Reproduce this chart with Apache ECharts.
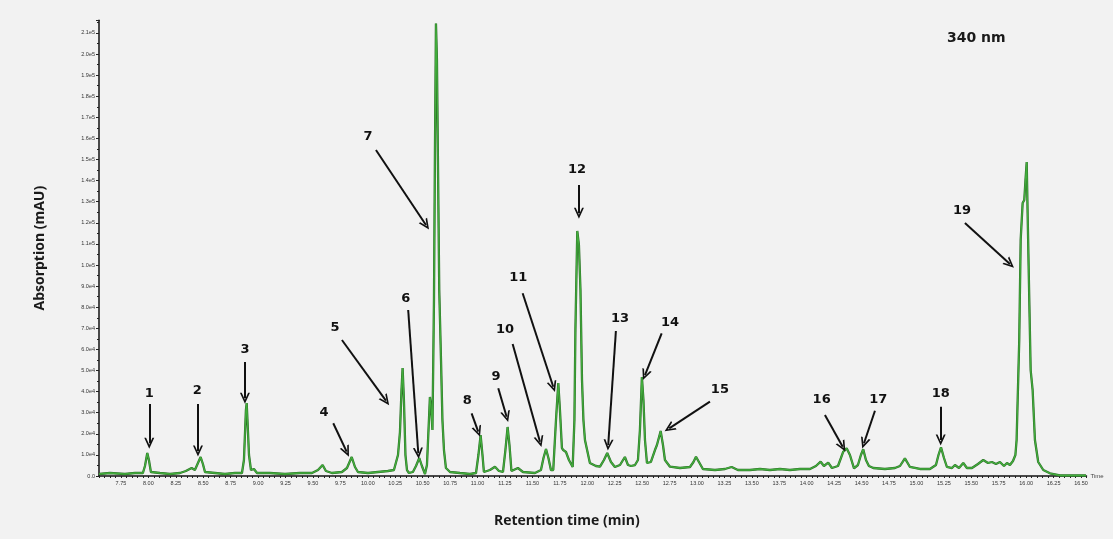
<!DOCTYPE html>
<html>
<head>
<meta charset="utf-8">
<script src="https://cdn.jsdelivr.net/npm/echarts@6/dist/echarts.min.js"></script>
<style>
html,body{margin:0;padding:0;background:#f2f2f2;}
#chart{width:1113px;height:539px;}
</style>
</head>
<body>
<div id="chart"></div>
<script>
// Retention time (min)
const times = [
7.55,7.650,7.786,7.878,7.950,7.969,7.990,8.005,8.023,8.105,8.197,8.288,8.342,8.394,8.424,8.452,8.476,8.497,8.516,8.607,
8.698,8.789,8.853,8.871,8.889,8.896,8.903,8.917,8.935,8.962,8.990,9.108,9.245,9.381,9.491,9.546,9.588,9.618,9.673,9.764,
9.810,9.853,9.883,9.910,10.001,10.092,10.183,10.238,10.275,10.293,10.307,10.317,10.329,10.343,10.357,10.375,10.411,10.439,10.469,10.493,
10.521,10.539,10.557,10.566,10.575,10.589,10.603,10.612,10.621,10.630,10.639,10.651,10.667,10.680,10.694,10.712,10.749,10.840,10.931,10.986,
11.008,11.028,11.045,11.058,11.113,11.159,11.195,11.232,11.254,11.274,11.291,11.309,11.368,11.414,11.523,11.578,11.601,11.624,11.646,11.669,
11.690,11.715,11.736,11.751,11.769,11.781,11.806,11.833,11.867,11.883,11.892,11.909,11.924,11.938,11.952,11.965,11.979,12.024,12.079,12.116,
12.152,12.182,12.216,12.252,12.298,12.343,12.371,12.398,12.435,12.462,12.480,12.498,12.512,12.526,12.544,12.580,12.617,12.635,12.669,12.690,
12.708,12.754,12.845,12.936,12.968,12.991,13.018,13.054,13.164,13.255,13.316,13.373,13.483,13.574,13.665,13.756,13.847,13.938,14.030,14.084,
14.127,14.157,14.196,14.230,14.285,14.312,14.333,14.364,14.394,14.431,14.467,14.494,14.515,14.540,14.567,14.607,14.713,14.804,14.850,14.895,
14.941,15.032,15.123,15.178,15.201,15.224,15.251,15.278,15.324,15.351,15.388,15.427,15.460,15.506,15.561,15.609,15.652,15.688,15.725,15.761,
15.798,15.825,15.852,15.880,15.902,15.913,15.937,15.950,15.968,15.983,15.994,16.005,16.014,16.028,16.041,16.059,16.080,16.110,16.156,16.217,
16.308,16.445,16.545
];
// Absorption (mAU, raw detector units)
const absorbance = [
950,1420,950,1420,1420,4740,10900,7580,1900,1420,950,1420,2370,3790,2840,6160,9010,5690,1900,1420,
950,1420,1420,7580,31280,34600,26540,9950,2840,3320,1420,1420,950,1420,1420,2840,5210,2370,1420,1900,
3790,9010,4270,1900,1420,1900,2370,2840,9950,20860,40760,51190,36020,9950,2840,1420,1900,4740,8530,4740,
950,5210,26540,37450,33650,21800,83420,154520,214500,197180,149780,88160,54980,26540,12320,3790,1900,1420,950,1420,
9950,19430,9950,1900,2840,4410,2370,1900,12320,23230,14690,2370,3790,1900,1420,2840,8530,12800,8530,2840,
2840,26540,44080,31280,13270,12320,11380,7580,4270,26540,69200,116130,109490,88160,45500,26540,17060,6160,4740,4410,
7580,10900,6640,4270,5210,9010,5210,4740,5210,7580,21800,46930,36020,17060,6160,6640,12320,14690,21330,14690,
7580,4410,3790,4270,6640,9150,6640,3320,2840,3320,4270,2840,2840,3320,2840,3320,2840,3320,3320,4740,
6780,4740,6300,3790,4740,8530,11520,13130,9950,3650,5210,9950,12660,7580,4740,3790,3320,3790,4740,8390,
4270,3320,3320,5210,9950,13600,8530,4270,3790,5210,3790,6160,3790,3790,5690,7580,6160,6640,5690,6640,
4740,6160,5210,7110,9950,17060,64460,111860,129400,130820,140300,148840,122770,84850,50240,40760,17060,6640,2840,1280,
240,240,240
];
// Peak annotations
const peakIds = ['1','2','3','4','5','6','7','8','9','10','11','12','13','14','15','16','17','18','19'];
const labelT = [8.008,8.445,8.880,9.600,9.700,10.347,10.001,10.906,11.168,11.250,11.371,11.906,12.298,12.754,13.209,14.136,14.652,15.221,15.415];
const labelV = [39200,40430,59720,30190,70150,84230,160690,35690,47070,69200,94180,145040,74750,72660,40760,36020,36020,38870,125610];
const arrowStartT = [8.008,8.452,8.880,9.685,9.764,10.368,10.074,10.946,11.189,11.320,11.411,11.924,12.261,12.678,13.118,14.166,14.622,15.221,15.442];
const arrowStartV = [34130,34130,54040,24980,64460,78680,154520,29720,41570,62570,86600,137930,68730,67640,35220,28910,30950,32850,119920];
const arrowEndT = [8.008,8.452,8.880,9.807,10.165,10.460,10.530,11.006,11.265,11.569,11.690,11.924,12.191,12.526,12.747,14.328,14.522,15.221,15.852];
const arrowEndV = [15500,11850,36830,11520,35690,10760,118970,21000,28110,16260,42330,124520,14690,47870,22610,13890,15500,17060,100490];

const seriesData = times.map((t, i) => [t, absorbance[i]]);
const arrowLines = peakIds.map((id, i) => [
  {coord: [arrowStartT[i], arrowStartV[i]]},
  {coord: [arrowEndT[i], arrowEndV[i]]}
]);
const labelPoints = peakIds.map((id, i) => ({name: id, coord: [labelT[i], labelV[i]]}));

const chart = echarts.init(document.getElementById('chart'), null, {renderer: 'canvas'});
chart.setOption({
  backgroundColor: '#f2f2f2',
  animation: false,
  title: [
    {text: 'Retention time (min)', left: 489, top: 509,
     textStyle: {fontFamily: 'Open Sans', fontWeight: 'bold', fontSize: 14, color: '#1a1a1a'}},
    {text: '340 nm', left: 942, top: 26,
     textStyle: {fontFamily: 'DejaVu Sans', fontWeight: 'bold', fontSize: 14, color: '#1a1a1a'}}
  ],
  grid: {left: 99, right: 26.5, top: 20.3, bottom: 63},
  xAxis: {
    type: 'value', min: 7.55, max: 16.55, interval: 0.05,
    name: 'Time', nameLocation: 'end', nameGap: 4,
    nameTextStyle: {fontSize: 6, color: '#444', verticalAlign: 'middle'},
    axisLine: {lineStyle: {color: '#111', width: 1.5}},
    axisTick: {length: 2, lineStyle: {color: '#222'}},
    splitLine: {show: false},
    axisLabel: {
      fontSize: 5.5, color: '#333', margin: 4,
      formatter: v => (Math.abs(v * 4 - Math.round(v * 4)) < 1e-6 ? v.toFixed(2) : '')
    }
  },
  yAxis: {
    type: 'value', min: 0, max: 216000, interval: 10000,
    name: 'Absorption (mAU)', nameLocation: 'middle', nameGap: 52,
    nameTextStyle: {fontFamily: 'Open Sans', fontWeight: 'bold', fontSize: 14, color: '#1a1a1a'},
    axisLine: {show: true, lineStyle: {color: '#111', width: 1.5}},
    axisTick: {show: true, length: 3, lineStyle: {color: '#222'}},
    minorTick: {show: true, splitNumber: 2, length: 2, lineStyle: {color: '#222'}},
    splitLine: {show: false},
    axisLabel: {
      fontSize: 5.5, color: '#333', margin: 4, showMaxLabel: false,
      formatter: v => (v === 0 ? '0.0' : v.toExponential(1).replace('+', ''))
    }
  },
  series: [{
    type: 'line',
    data: seriesData,
    showSymbol: false,
    silent: true,
    z: 2,
    lineStyle: {color: '#2d6e28', width: 2.3}
  }, {
    type: 'line',
    data: seriesData,
    showSymbol: false,
    z: 3,
    lineStyle: {color: '#42ad3c', width: 1.3},
    markLine: {
      silent: true,
      symbol: ['none', 'path://M5,0 L10,10 L8.2,10 L5,3.6 L1.8,10 L0,10 Z'],
      symbolSize: [10, 11],
      label: {show: false},
      lineStyle: {color: '#111', width: 2, type: 'solid'},
      data: arrowLines
    },
    markPoint: {
      silent: true,
      symbol: 'circle', symbolSize: 1,
      itemStyle: {color: 'rgba(0,0,0,0)'},
      label: {show: true, position: 'inside', formatter: p => p.name,
        fontFamily: 'DejaVu Sans', fontWeight: 'bold', fontSize: 13, color: '#111'},
      data: labelPoints
    }
  }]
});
</script>
</body>
</html>
